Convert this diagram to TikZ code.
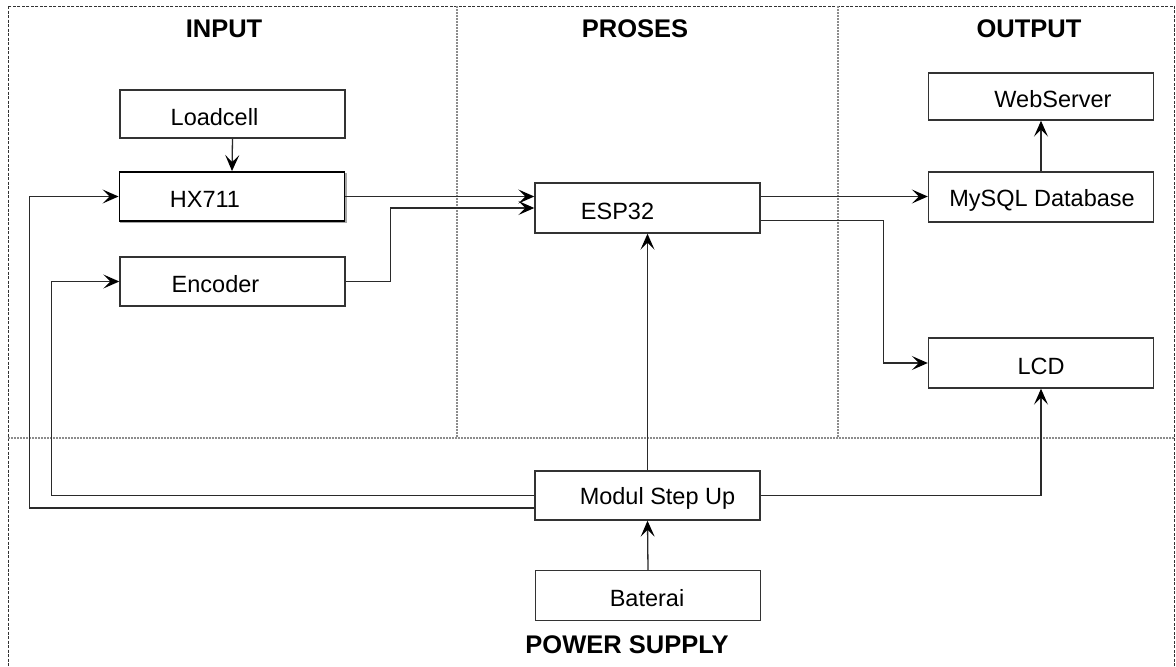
\documentclass[tikz,border=0pt]{standalone}
\usepackage{fontspec}
\setmainfont{Liberation Sans}
\usetikzlibrary{arrows.meta,shadows,calc}
\definecolor{boxgray}{HTML}{333333}
\definecolor{linegray}{HTML}{2A2A2A}
\definecolor{divgray}{HTML}{8C8C8C}
\tikzset{
  blk/.style={draw=boxgray, line width=1.4pt, rectangle, minimum width=225pt, minimum height=49pt, inner sep=0pt, fill=white},
  every label/.style={font=\fontsize{23.5}{26}\selectfont, text=black, inner sep=0pt},
  heading/.style={font=\bfseries\fontsize{25.5}{28}\selectfont, inner sep=0pt},
  arr/.style={draw=linegray, line width=1.3pt, -{Stealth[length=16pt,width=14pt,inset=7pt,color=black]}},
  divline/.style={draw=divgray, line width=1.1pt, dash pattern=on 2pt off 1pt},
  frameline/.style={draw=black!80, line width=1pt, dash pattern=on 3pt off 1.5pt},
}
\begin{document}
\begin{tikzpicture}[x=1pt,y=-1pt]
\useasboundingbox (0,0) rectangle (1176,667);
% frame and dividers
\begin{scope}
\clip (0,0) rectangle (1176,667);
\draw[frameline] (8,6) rectangle (1174,680);
\end{scope}
\draw[divline] (457,6) -- (457,438);
\draw[divline] (838,6) -- (838,438);
\draw[divline] (8,438) -- (1174,438);
% headings
\node[heading] (hin) at (224,29) {INPUT};
\node[heading] (hpr) at (635,29) {PROSES};
\node[heading] (hout) at (1029,29) {OUTPUT};
\node[heading] (hps) at (627,645) {POWER SUPPLY};
% boxes
\node[blk, minimum height=48pt, label={[xshift=-18pt,yshift=-3pt]center:Loadcell}] (load) at (232.5,114) {};
\node[blk, draw=black, line width=1.9pt,
  general shadow={draw=gray!70, line width=1.2pt, fill=white, shadow xshift=1.5pt, shadow yshift=-1.5pt},
  label={[xshift=-27pt,yshift=-3pt]center:HX711}] (hx) at (232,196.5) {};
\node[blk, label={[xshift=-17pt,yshift=-3pt]center:Encoder}] (enc) at (232.5,281.5) {};
\node[blk, minimum height=50pt, label={[xshift=-30pt,yshift=-3pt]center:ESP32}] (esp) at (647.5,208) {};
\node[blk, minimum height=47pt, label={[xshift=12pt,yshift=-3pt]center:WebServer}] (web) at (1041,96.5) {};
\node[blk, minimum height=50pt, label={[xshift=1pt,yshift=-3pt]center:MySQL Database}] (mysql) at (1041,197) {};
\node[blk, minimum height=50pt, label={[xshift=0pt,yshift=-3pt]center:LCD}] (lcd) at (1041,363) {};
\node[blk, label={[xshift=10pt,yshift=-3pt]center:Modul Step Up}] (step) at (647.5,495.5) {};
\node[blk, minimum height=50pt, label={[xshift=-1pt,yshift=-3pt]center:Baterai}] (bat) at (648,595.5) {};
% connectors
\draw[arr] (load.south) -- (hx.north);
\draw[arr] (hx.east) -- (hx.east -| esp.west);
\draw[arr] (enc.east) -- ++(45,0) |- (esp.west);
\draw[arr] ([yshift=11.5pt]esp.east) -- ([yshift=11.5pt]esp.east -| mysql.west);
\draw[arr] ([yshift=-12.5pt]esp.east) -- ++(123,0) |- (lcd.west);
\draw[arr] (mysql.north) -- (web.south);
\draw[arr] (step.north) -- (esp.south);
\draw[arr] (bat.north) -- (step.south);
\draw[arr] (step.east) -| (lcd.south);
\draw[arr] (step.west) -- ++(-483,0) |- (enc.west);
\draw[arr] ([yshift=-12.5pt]step.west) -- ++(-505,0) |- (hx.west);
\end{tikzpicture}
\end{document}
